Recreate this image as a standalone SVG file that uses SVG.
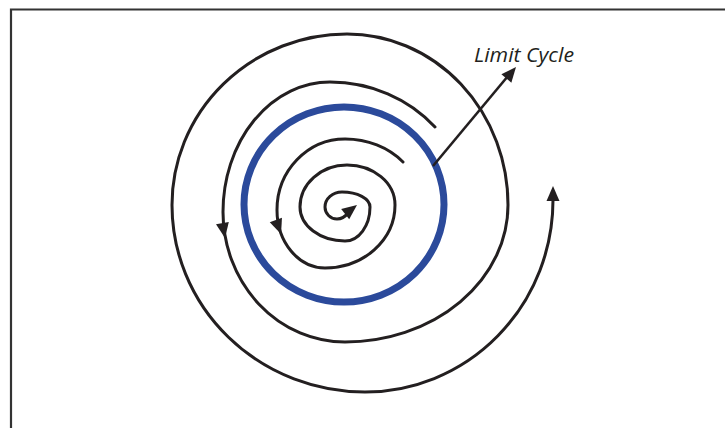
<svg xmlns="http://www.w3.org/2000/svg" xmlns:xlink="http://www.w3.org/1999/xlink" width="725" height="428" viewBox="0 0 725 428">
  <style>
    .traj { fill: none; stroke: #231f20; stroke-width: 3; stroke-linecap: round; stroke-linejoin: round; }
    .cycle { fill: none; stroke: #2b4a9b; stroke-width: 7; }
    .pointer { fill: none; stroke: #231f20; stroke-width: 2.6; }
    .head { fill: #231f20; }
    .label { font-family: "Open Sans", "Liberation Sans", sans-serif; font-style: italic; font-size: 20px; fill: #231f20; }
    .frame { fill: none; stroke: #333333; stroke-width: 2.2; }
  </style>
  <defs>
    <path id="ah" class="head" d="M0,0 L-15,-6.5 L-15,6.5 Z"/>
  </defs>
  <rect width="725" height="428" fill="#ffffff"/>
  <path class="frame" d="M11,430 V9.5 H727"/>

  <g id="limit-cycle">
    <ellipse class="cycle" cx="344" cy="204.5" rx="100" ry="97.5"/>
  </g>

  <g id="connectors">
    <g id="outer-trajectory">
      <path class="traj" d="M435,127 A139,130 0 0 0 330,82 A107,130 0 0 0 223,212 A122,130 0 0 0 345,342 A163,137 0 0 0 508,205 A161,171 0 0 0 347,34 A175,171 0 0 0 172,205 A193,187 0 0 0 365,392 A188,192 0 0 0 553,200 L553,196"/>
      <use xlink:href="#ah" transform="translate(225,238) rotate(80)"/>
      <use xlink:href="#ah" transform="translate(553,186) rotate(-90)"/>
    </g>
    <g id="inner-trajectory">
      <path class="traj" d="M403,162 A77,68 0 0 0 345,139 A68,71 0 0 0 277,210 A48,58 0 0 0 325,268 A70,63 0 0 0 395,205 A48,40 0 0 0 347,165 A47,42 0 0 0 300,207 A45,34 0 0 0 345,241 A25,34 0 0 0 370,207 A28,15 0 0 0 342,192 A17,15 0 0 0 325,207 A12,12 0 0 0 337,219 C341,219 345,217 348,213"/>
      <use xlink:href="#ah" transform="translate(281,234) rotate(70)"/>
      <use xlink:href="#ah" transform="translate(357,205) rotate(-38)"/>
    </g>
    <g id="limit-cycle-pointer">
      <path class="pointer" d="M433,166 L508,76"/>
      <use xlink:href="#ah" transform="translate(516,67) rotate(-50)"/>
    </g>
  </g>

  <g id="label">
    <text class="label" x="474" y="62" textLength="100" lengthAdjust="spacingAndGlyphs">Limit Cycle</text>
  </g>
</svg>
